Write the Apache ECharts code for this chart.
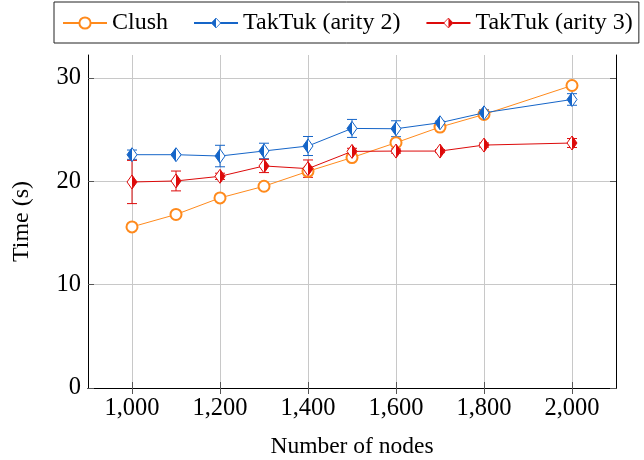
<!DOCTYPE html>
<html>
<head>
<meta charset="utf-8">
<script src="https://cdn.jsdelivr.net/npm/echarts@6/dist/echarts.min.js"></script>
<style>
    html, body { margin: 0; padding: 0; background: #fff; }
    #chart { width: 644px; height: 460px; }
</style>
</head>
<body>
<div id="chart"></div>
<script>
    // data
    const nodes = [1000, 1100, 1200, 1300, 1400, 1500, 1600, 1700, 1800, 2000];
    const clush = [15.58, 16.78, 18.38, 19.51, 20.95, 22.28, 23.72, 25.23, 26.45, 29.25];
    const arity2 = [22.56, 22.56, 22.43, 22.92, 23.40, 25.10, 25.07, 25.65, 26.61, 27.90];
    const arity2Err = [0.45, 0.1, 1.04, 0.75, 0.92, 0.87, 0.77, 0.15, 0.3, 0.56];
    const arity3 = [19.92, 20.02, 20.47, 21.47, 21.21, 22.88, 22.91, 22.91, 23.49, 23.69];
    const arity3Err = [2.09, 0.96, 0.3, 0.64, 0.84, 0.3, 0.2, 0.15, 0.2, 0.43];
    const xTicks = [1000, 1200, 1400, 1600, 1800, 2000];
    const yTicks = [0, 10, 20, 30];

    const ORANGE = '#ff8a1c';
    const BLUE = '#1565c8';
    const RED = '#dd0a0a';
    const FONT = '"Liberation Serif", "DejaVu Serif", serif';

    // half filled diamond marker (pgfplots style)
    function halfDiamond(color, leftFilled) {
        const half = leftFilled
            ? 'M6 1 L1 8 L6 15 Z'
            : 'M6 1 L11 8 L6 15 Z';
        const svg = '<svg xmlns="http://www.w3.org/2000/svg" width="12" height="16" viewBox="0 0 12 16">'
            + '<path d="M6 1 L11 8 L6 15 L1 8 Z" fill="#fff" stroke="' + color + '" stroke-width="1"/>'
            + '<path d="' + half + '" fill="' + color + '"/>'
            + '</svg>';
        return 'image://data:image/svg+xml;utf8,' + encodeURIComponent(svg);
    }

    function pairs(ys) {
        return nodes.map((x, i) => [x, ys[i]]);
    }

    function errData(ys, errs) {
        return nodes.map((x, i) => [x, ys[i] - errs[i], ys[i] + errs[i]]);
    }

    function errSeries(ys, errs, color) {
        return {
            type: 'custom',
            silent: true,
            z: 3,
            data: errData(ys, errs),
            encode: { x: 0, y: [1, 2] },
            renderItem(params, api) {
                const lo = api.coord([api.value(0), api.value(1)]);
                const hi = api.coord([api.value(0), api.value(2)]);
                const w = 5;
                const style = { stroke: color, lineWidth: 1 };
                return {
                    type: 'group',
                    children: [
                        { type: 'line', shape: { x1: lo[0], y1: lo[1], x2: hi[0], y2: hi[1] }, style },
                        { type: 'line', shape: { x1: lo[0] - w, y1: lo[1], x2: lo[0] + w, y2: lo[1] }, style },
                        { type: 'line', shape: { x1: hi[0] - w, y1: hi[1], x2: hi[0] + w, y2: hi[1] }, style }
                    ]
                };
            }
        };
    }

    const tickStyle = { show: true, inside: true, length: 6, lineStyle: { color: '#555', width: 1 } };
    const lineAxis = { show: true, lineStyle: { color: '#000', width: 1 } };
    const gridLine = { show: true, lineStyle: { color: '#c8c8c8', width: 1 } };

    const chart = echarts.init(document.getElementById('chart'));
    chart.setOption({
        animation: false,
        backgroundColor: '#fff',
        textStyle: { fontFamily: FONT },
        grid: { left: 88, right: 28, top: 55, bottom: 72, outerBoundsMode: 'none' },
        legend: {
            data: ['Clush', 'TakTuk (arity 2)', 'TakTuk (arity 3)'],
            left: 54,
            top: 2,
            padding: [9, 6, 8, 8],
            itemWidth: 44,
            itemHeight: 14,
            itemGap: 25,
            borderColor: '#222',
            borderWidth: 1,
            borderRadius: 0,
            textStyle: { fontFamily: FONT, fontSize: 24, color: '#000' }
        },
        xAxis: [{
            type: 'value',
            min: 900,
            max: 2100,
            name: 'Number of nodes',
            nameLocation: 'middle',
            nameGap: 47,
            nameTextStyle: { fontFamily: FONT, fontSize: 23.5, color: '#000' },
            axisLine: lineAxis,
            axisTick: Object.assign({ customValues: xTicks }, tickStyle),
            axisLabel: {
                customValues: xTicks,
                margin: 8,
                fontFamily: FONT,
                fontSize: 24.5,
                color: '#000',
                formatter: v => v.toLocaleString('en-US')
            },
            splitLine: gridLine
        }, {
            type: 'value',
            position: 'top',
            min: 900,
            max: 2100,
            axisLine: lineAxis,
            axisTick: Object.assign({ customValues: xTicks }, tickStyle),
            axisLabel: { show: false },
            splitLine: { show: false }
        }],
        yAxis: [{
            type: 'value',
            min: 0,
            max: 32.2,
            name: 'Time (s)',
            nameLocation: 'middle',
            nameGap: 54,
            nameTextStyle: { fontFamily: FONT, fontSize: 24, color: '#000' },
            axisLine: lineAxis,
            axisTick: Object.assign({ customValues: yTicks }, tickStyle),
            axisLabel: {
                customValues: yTicks,
                margin: 7,
                fontFamily: FONT,
                fontSize: 24.5,
                color: '#000'
            },
            splitLine: gridLine
        }, {
            type: 'value',
            position: 'right',
            min: 0,
            max: 32.2,
            axisLine: lineAxis,
            axisTick: Object.assign({ customValues: yTicks }, tickStyle),
            axisLabel: { show: false },
            splitLine: { show: false }
        }],
        series: [
            {
                name: 'Clush',
                type: 'line',
                data: pairs(clush),
                symbol: 'emptyCircle',
                symbolSize: 11,
                z: 4,
                lineStyle: { color: ORANGE, width: 1 },
                itemStyle: { color: ORANGE, borderWidth: 1 }
            },
            errSeries(arity2, arity2Err, BLUE),
            {
                name: 'TakTuk (arity 2)',
                type: 'line',
                data: pairs(arity2),
                symbol: halfDiamond(BLUE, true),
                symbolSize: [12, 16],
                z: 5,
                lineStyle: { color: BLUE, width: 1 },
                itemStyle: { color: BLUE }
            },
            errSeries(arity3, arity3Err, RED),
            {
                name: 'TakTuk (arity 3)',
                type: 'line',
                data: pairs(arity3),
                symbol: halfDiamond(RED, false),
                symbolSize: [12, 16],
                z: 6,
                lineStyle: { color: RED, width: 1 },
                itemStyle: { color: RED }
            }
        ]
    });
</script>
</body>
</html>
